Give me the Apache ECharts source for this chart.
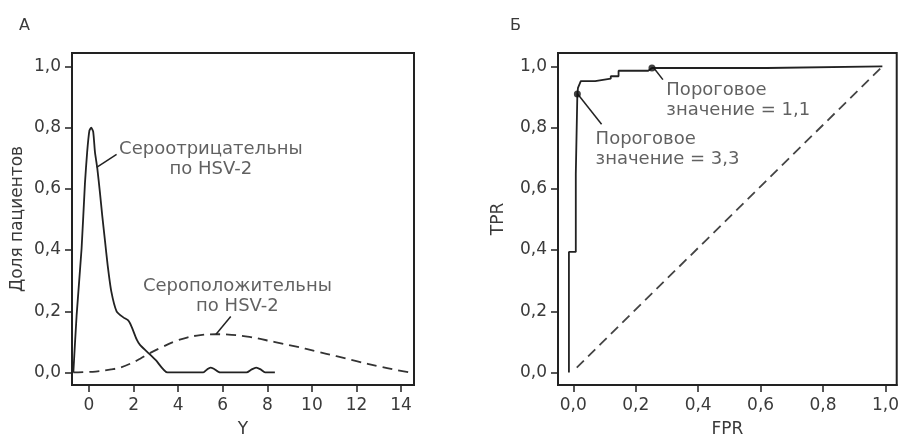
<!DOCTYPE html>
<html>
<head>
<meta charset="utf-8">
<script src="https://cdn.jsdelivr.net/npm/echarts@6/dist/echarts.min.js"></script>
<style>
html,body{margin:0;padding:0;background:#fff;}
#c{width:902px;height:443px;}
</style>
</head>
<body>
<div id="c"></div>
<script>
// ---- Panel A: distribution of Y ----
const seronegX = [-0.70,-0.55,-0.33,-0.18,-0.08,0.02,0.10,0.19,0.27,0.37,0.49,0.60,0.72,0.84,1.00,1.24,1.54,1.76,1.91,2.14,2.29,2.60,3.00,3.52,5.13,5.30,5.45,5.60,5.88,7.07,7.30,7.50,7.70,7.90,8.34];
const seronegY = [0.000,0.190,0.405,0.617,0.720,0.790,0.800,0.787,0.720,0.670,0.590,0.510,0.430,0.350,0.266,0.200,0.180,0.170,0.150,0.108,0.090,0.068,0.040,0.000,0.000,0.010,0.016,0.012,0.000,0.000,0.010,0.016,0.010,0.000,0.000];
const seroposX = [-0.70,0.30,1.00,1.40,1.90,2.30,2.60,3.20,3.80,4.40,5.00,5.70,6.40,7.20,8.30,9.20,10.20,11.10,12.00,13.00,13.80,14.40];
const seroposY = [0.000,0.003,0.010,0.016,0.030,0.045,0.058,0.080,0.100,0.114,0.122,0.125,0.123,0.116,0.100,0.086,0.069,0.053,0.037,0.020,0.008,0.000];
const yTicksA = [0,2,4,6,8,10,12,14];
const fracTicks = [0,0.2,0.4,0.6,0.8,1.0];

// ---- Panel Б: ROC curve ----
const rocFPR = [-0.014,-0.014,0.008,0.008,0.013,0.013,0.015,0.024,0.070,0.070,0.120,0.120,0.145,0.145,0.240,0.252,0.620,0.620,0.990];
const rocTPR = [0.000,0.394,0.394,0.649,0.649,0.910,0.930,0.952,0.952,0.958,0.960,0.968,0.968,0.986,0.986,0.995,0.995,1.000,1.000];
const diagFPR = [0.011,0.990];
const diagTPR = [0.016,1.000];
const cutoffFPR = [0.013,0.252];
const cutoffTPR = [0.910,0.995];

// annotation texts and anchors
const noteTexts = ['Сероотрицательны\nпо HSV-2','Сероположительны\nпо HSV-2','Пороговое\nзначение = 1,1','Пороговое\nзначение = 3,3'];
const noteAX = [5.47,6.66], noteAY = [0.696,0.249];
const noteBX = [0.298,0.0715], noteBY = [0.888,0.729];
const leadA1X = [0.345,1.24], leadA1Y = [0.670,0.713];
const leadA2X = [5.70,6.36], leadA2Y = [0.125,0.183];
const leadB1X = [0.258,0.287], leadB1Y = [0.995,0.957];
const leadB2X = [0.014,0.0906], leadB2Y = [0.910,0.811];

const zip = (a,b) => a.map((v,i)=>[v,b[i]]);
const comma = v => (Math.round(v*10)/10).toFixed(1).replace('.',',');

const FONT = 'DejaVu Sans';
const TXT = '#3a3a3a';
const LINE = '#222';

function xAxisCfg(idx, min, max, ticks, fmt, name){
  return {
    type:'value', gridIndex:idx, min:min, max:max, name:name,
    nameLocation:'middle', nameGap:36,
    nameTextStyle:{fontFamily:FONT,fontSize:17,color:TXT},
    splitLine:{show:false},
    axisLine:{show:true,onZero:false,lineStyle:{color:LINE,width:2}},
    axisTick:{show:true,inside:false,length:7,customValues:ticks,lineStyle:{color:LINE,width:1.5}},
    axisLabel:{show:true,margin:12,customValues:ticks,formatter:fmt,fontFamily:FONT,fontSize:17,color:TXT}
  };
}
function yAxisCfg(idx, name, gap){
  return {
    type:'value', gridIndex:idx, min:-0.041, max:1.044, name:name,
    nameLocation:'middle', nameGap:gap, nameRotate:90,
    nameTextStyle:{fontFamily:FONT,fontSize:17,color:TXT},
    splitLine:{show:false},
    axisLine:{show:true,onZero:false,lineStyle:{color:LINE,width:2}},
    axisTick:{show:true,inside:false,length:7,customValues:fracTicks,lineStyle:{color:LINE,width:1.5}},
    axisLabel:{show:true,margin:11,customValues:fracTicks,formatter:comma,fontFamily:FONT,fontSize:17,color:TXT}
  };
}
function lead(idx, xs, ys){
  return {type:'line',xAxisIndex:idx,yAxisIndex:idx,data:zip(xs,ys),symbol:'none',silent:true,
          lineStyle:{color:LINE,width:1.5},z:3};
}
function note(idx, x, y, text, pos){
  return {type:'scatter',xAxisIndex:idx,yAxisIndex:idx,data:[[x,y]],symbolSize:0,silent:true,
          label:{show:true,position:pos,distance:0,formatter:text,fontFamily:FONT,fontSize:18,lineHeight:20,
                 color:TXT,align:pos==='inside'?'center':'left',verticalAlign:'middle'}};
}

const chart = echarts.init(document.getElementById('c'), null, {renderer:'canvas'});
chart.setOption({
  backgroundColor:'#fff',
  animation:false,
  title:[
    {text:'А',left:14,top:13,textStyle:{fontFamily:FONT,fontSize:16,fontWeight:'normal',color:TXT}},
    {text:'Б',left:505,top:13,textStyle:{fontFamily:FONT,fontSize:16,fontWeight:'normal',color:TXT}}
  ],
  grid:[
    {left:72,top:53,width:342,height:340,show:true,borderColor:LINE,borderWidth:2,backgroundColor:'transparent'},
    {left:558,top:53,width:340,height:340,show:true,borderColor:LINE,borderWidth:2,backgroundColor:'transparent'}
  ],
  xAxis:[
    xAxisCfg(0,-0.76,14.58,yTicksA,v=>String(Math.round(v)),'Y'),
    xAxisCfg(1,-0.049,1.036,fracTicks,comma,'FPR')
  ],
  yAxis:[
    yAxisCfg(0,'Доля пациентов',46),
    yAxisCfg(1,'TPR',51)
  ],
  series:[
    {type:'line',xAxisIndex:0,yAxisIndex:0,data:zip(seronegX,seronegY),symbol:'none',smooth:0.2,
     lineStyle:{color:LINE,width:1.8},z:4},
    {type:'line',xAxisIndex:0,yAxisIndex:0,data:zip(seroposX,seroposY),symbol:'none',smooth:0.4,
     lineStyle:{color:'#333',width:1.8,type:[10,6]},z:3},
    lead(0,leadA1X,leadA1Y),
    lead(0,leadA2X,leadA2Y),
    note(0,noteAX[0],noteAY[0],noteTexts[0],'inside'),
    note(0,noteAX[1],noteAY[1],noteTexts[1],'inside'),
    {type:'line',xAxisIndex:1,yAxisIndex:1,data:zip(rocFPR,rocTPR),symbol:'none',
     lineStyle:{color:LINE,width:1.8},z:4},
    {type:'line',xAxisIndex:1,yAxisIndex:1,data:zip(diagFPR,diagTPR),symbol:'none',
     lineStyle:{color:'#444',width:1.8,type:[10,6]},z:3},
    {type:'scatter',xAxisIndex:1,yAxisIndex:1,data:zip(cutoffFPR,cutoffTPR),symbol:'circle',symbolSize:7,
     itemStyle:{color:'#111'},z:5,silent:true},
    lead(1,leadB1X,leadB1Y),
    lead(1,leadB2X,leadB2Y),
    note(1,noteBX[0],noteBY[0],noteTexts[2],'right'),
    note(1,noteBX[1],noteBY[1],noteTexts[3],'right')
  ]
});
</script>
</body>
</html>
